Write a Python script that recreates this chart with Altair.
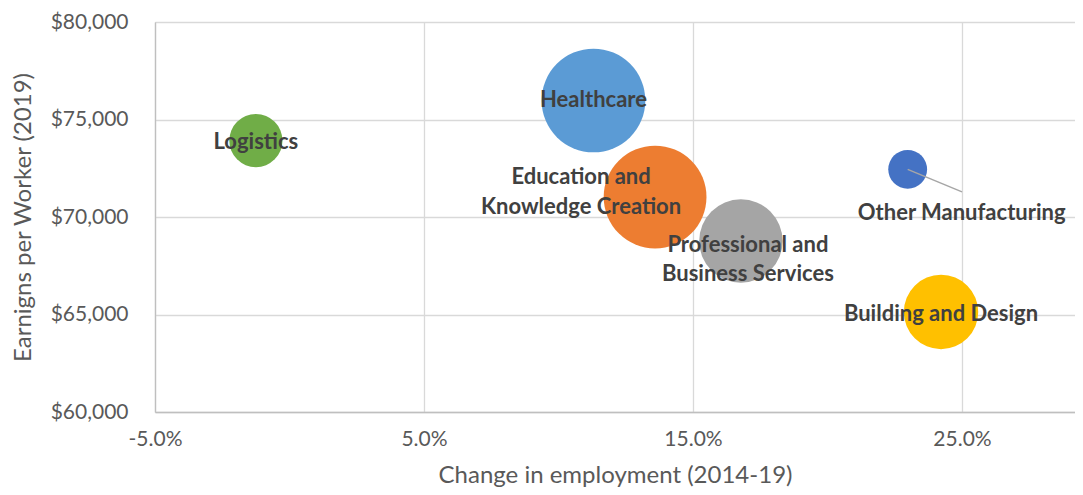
import altair as alt
import pandas as pd

# ---- data ----
industries = ["Healthcare", "Education and Knowledge Creation", "Professional and Business Services",
              "Logistics", "Other Manufacturing", "Building and Design"]
emp_change = [0.1130, 0.1359, 0.1678, -0.0125, 0.2298, 0.2422]      # change in employment 2014-19
earnings = [75975, 71025, 68770, 73920, 72445, 65130]                # earnings per worker 2019
bubble_size = [34.2, 33.6, 22.1, 9.0, 4.8, 17.6]                     # relative bubble size
colors = ["#5B9BD5", "#ED7D31", "#A5A5A5", "#70AD47", "#4472C4", "#FFC000"]

x_ticks = [-0.05, 0.05, 0.15, 0.25]
y_ticks = [60000, 65000, 70000, 75000, 80000]

# label text lines and pixel offsets from bubble centres (style)
label_lines = {
    "Healthcare": (["Healthcare"], 0, 0),
    "Education and Knowledge Creation": (["Education and", "Knowledge Creation"], -74, -20),
    "Professional and Business Services": (["Professional and", "Business Services"], 7, 4),
    "Logistics": (["Logistics"], 0, 1),
    "Other Manufacturing": (["Other Manufacturing"], 54, 44),
    "Building and Design": (["Building and Design"], 0, 2),
}
# leader line end for "Other Manufacturing" (data units)
leader_industry = "Other Manufacturing"
leader_end_x = 0.25
leader_end_y = 71290

df = pd.DataFrame({
    "industry": industries,
    "change": emp_change,
    "earnings": earnings,
    "size": bubble_size,
    "order": list(range(len(industries))),
})

FONT = "Lato"
x_enc = alt.X("change:Q",
              scale=alt.Scale(domain=[-0.05, 0.292], nice=False, zero=False),
              axis=alt.Axis(values=x_ticks, format=".1%", title="Change in employment (2014-19)",
                            labelExpr="replace(datum.label, '\u2212', '-')",
                            labelFlush=False,
                            grid=True, gridColor="#D9D9D9", gridWidth=1.3,
                            domainColor="#BFBFBF", domainWidth=1.3, ticks=False,
                            labelFont=FONT, labelFontSize=21, labelColor="#595959", labelPadding=16,
                            titleFont=FONT, titleFontSize=24, titleColor="#595959",
                            titleFontWeight="normal", titlePadding=14))
y_enc = alt.Y("earnings:Q",
              scale=alt.Scale(domain=[60000, 80000], nice=False, zero=False),
              axis=alt.Axis(values=y_ticks, format="$,.0f", title="Earnigns per Worker (2019)",
                            labelFlush=False,
                            grid=True, gridColor="#D9D9D9", gridWidth=1.3,
                            domainColor="#BFBFBF", domainWidth=1.3, ticks=False,
                            labelFont=FONT, labelFontSize=21, labelColor="#595959", labelPadding=27,
                            titleFont=FONT, titleFontSize=24, titleColor="#595959",
                            titleFontWeight="normal", titlePadding=15))

base = alt.Chart(df)

bubbles = base.mark_circle(opacity=1, strokeWidth=0).encode(
    x=x_enc, y=y_enc,
    size=alt.Size("size:Q", scale=alt.Scale(domain=[0, 34.2], range=[0, 10751]), legend=None),
    color=alt.Color("industry:N", scale=alt.Scale(domain=industries, range=colors), legend=None),
    order=alt.Order("order:Q"),
)

leader_df = df[df["industry"] == leader_industry].assign(x2=leader_end_x, y2=leader_end_y)
leader = alt.Chart(leader_df).mark_rule(color="#A6A6A6", strokeWidth=1.5).encode(
    x="change:Q", y="earnings:Q", x2="x2:Q", y2="y2:Q")

layers = [bubbles, leader]
for name, (lines, dx, dy) in label_lines.items():
    sub = df[df["industry"] == name].assign(label="\n".join(lines))
    layers.append(
        alt.Chart(sub).mark_text(font=FONT, fontSize=22, fontWeight="bold", color="#404040",
                                 align="center", baseline="middle", lineBreak="\n",
                                 lineHeight=29.5, dx=dx, dy=dy).encode(
            x="change:Q", y="earnings:Q", text="label:N")
    )

chart = alt.layer(*layers).properties(
    width=920, height=390,
    autosize=alt.AutoSizeParams(type="none"),
    padding={"left": 147, "top": 14, "right": 0, "bottom": 75},
).configure_view(stroke=None).configure(background="white")

chart.save("out.html", embed_options={"renderer": "svg", "actions": False})
